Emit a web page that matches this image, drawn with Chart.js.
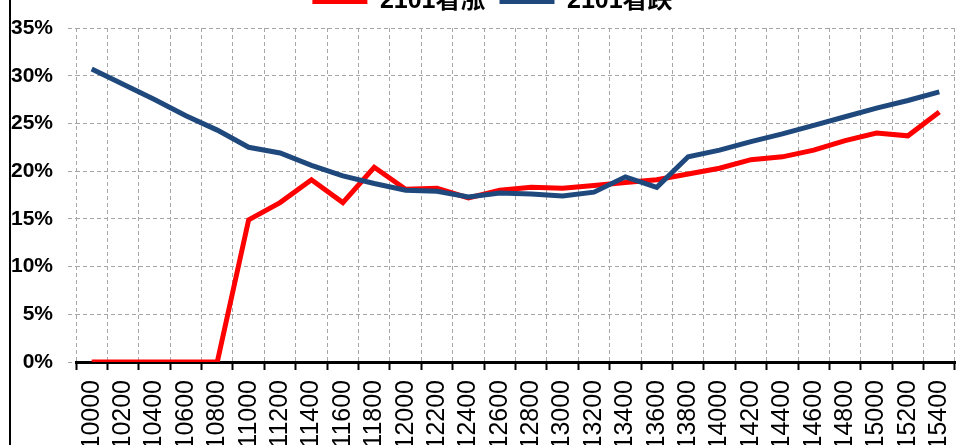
<!DOCTYPE html>
<html>
<head>
<meta charset="utf-8">
<script src="https://cdn.jsdelivr.net/npm/chart.js@4.4.0/dist/chart.umd.min.js"></script>
<style>
  body { margin: 0; background: #fff; }
  #frame { position: relative; width: 958px; height: 445px; overflow: hidden; background: #fff; }
  #leftLine { position: absolute; left: 9px; top: 0; width: 2px; height: 445px; background: #000; }
  #chartBox { position: absolute; left: 0; top: -21px; width: 958px; height: 488px; }
</style>
</head>
<body>
<div id="frame">
  <div id="chartBox"><canvas id="myChart"></canvas></div>
  <div id="leftLine"></div>
</div>
<script>
// strike prices along the x axis
const strikes = ["10000", "10200", "10400", "10600", "10800", "11000", "11200", "11400", "11600", "11800",
  "12000", "12200", "12400", "12600", "12800", "13000", "13200", "13400", "13600", "13800",
  "14000", "14200", "14400", "14600", "14800", "15000", "15200", "15400"];

// implied vol in %
const callVol = [0, 0, 0, 0, 0, 14.9, 16.7, 19.1, 16.7, 20.4,
  18.1, 18.2, 17.2, 18.0, 18.3, 18.2, 18.5, 18.8, 19.1, 19.7,
  20.3, 21.2, 21.5, 22.2, 23.2, 24.0, 23.7, 26.2];
const putVol = [30.7, 29.1, 27.5, 25.8, 24.3, 22.5, 21.9, 20.6, 19.5, 18.7,
  18.0, 17.9, 17.3, 17.7, 17.6, 17.4, 17.8, 19.4, 18.3, 21.5,
  22.2, 23.1, 23.9, 24.8, 25.7, 26.6, 27.4, 28.3];

const seriesNames = ["2101看涨", "2101看跌"];
const yTicks = [0, 5, 10, 15, 20, 25, 30, 35];

const gridGray = "#a6a6a6";
const fontFamily = "'Liberation Sans', Arial, 'Noto Sans CJK SC', sans-serif";

// the legend in the original sits a bit right of centre and half cut off at the top
const legendNudge = {
  id: "legendNudge",
  afterLayout(chart) {
    chart.legend.left += 15;
    chart.legend.right += 15;
    chart.legend.top -= 4;
    chart.legend.bottom -= 4;
  },
};

const ctx = document.getElementById("myChart");
const myChart = new Chart(ctx, {
  type: "line",
  data: {
    labels: strikes,
    datasets: [
      {
        label: seriesNames[0],
        data: callVol,
        borderColor: "#ff0000",
        backgroundColor: "#ff0000",
        borderWidth: 5,
        pointRadius: 0,
        tension: 0,
        order: 1,
      },
      {
        label: seriesNames[1],
        data: putVol,
        borderColor: "#1f497d",
        backgroundColor: "#1f497d",
        borderWidth: 5,
        pointRadius: 0,
        tension: 0,
        order: 0, // blue sits on top of red
      },
    ],
  },
  plugins: [legendNudge],
  options: {
    responsive: true,
    maintainAspectRatio: false,
    animation: false,
    layout: { padding: { left: 0, right: 3, top: 0, bottom: 0 } },
    plugins: {
      tooltip: { enabled: false },
      legend: {
        position: "top",
        reverse: true,
        labels: {
          usePointStyle: true,
          pointStyle: "line",
          pointStyleWidth: 55,
          color: "#000",
          padding: 14,
          font: { family: fontFamily, size: 25, weight: "bold" },
        },
      },
    },
    scales: {
      x: {
        offset: true,
        grid: {
          offset: true,
          color: gridGray,
          tickColor: "#000",
          tickBorderDash: [],
          tickLength: 8,
          tickWidth: 2,
        },
        // in v4 border.dash styles the grid lines, the axis line itself stays solid
        border: { display: true, color: "#000", width: 3, dash: [4, 3] },
        ticks: {
          autoSkip: false,
          minRotation: 90,
          maxRotation: 90,
          padding: 10,
          color: "#000",
          font: { family: fontFamily, size: 25 },
        },
        afterFit(scale) {
          scale.height = 105;
          // don't let the rotated labels push the plot in from the sides
          scale.paddingLeft = 0;
          scale.paddingRight = 0;
        },
      },
      y: {
        min: 0,
        max: 35,
        afterBuildTicks(scale) {
          scale.ticks = yTicks.map((v) => ({ value: v }));
        },
        grid: {
          color: gridGray,
          tickColor: gridGray,
          tickBorderDash: [4, 3],
          tickLength: 8,
        },
        border: { display: false, dash: [4, 3] },
        ticks: {
          padding: 15,
          color: "#000",
          font: { family: fontFamily, size: 21, weight: "bold" },
          callback: (v) => v + "%",
        },
        afterFit(scale) {
          scale.width = 76;
        },
      },
    },
  },
});
</script>
</body>
</html>
